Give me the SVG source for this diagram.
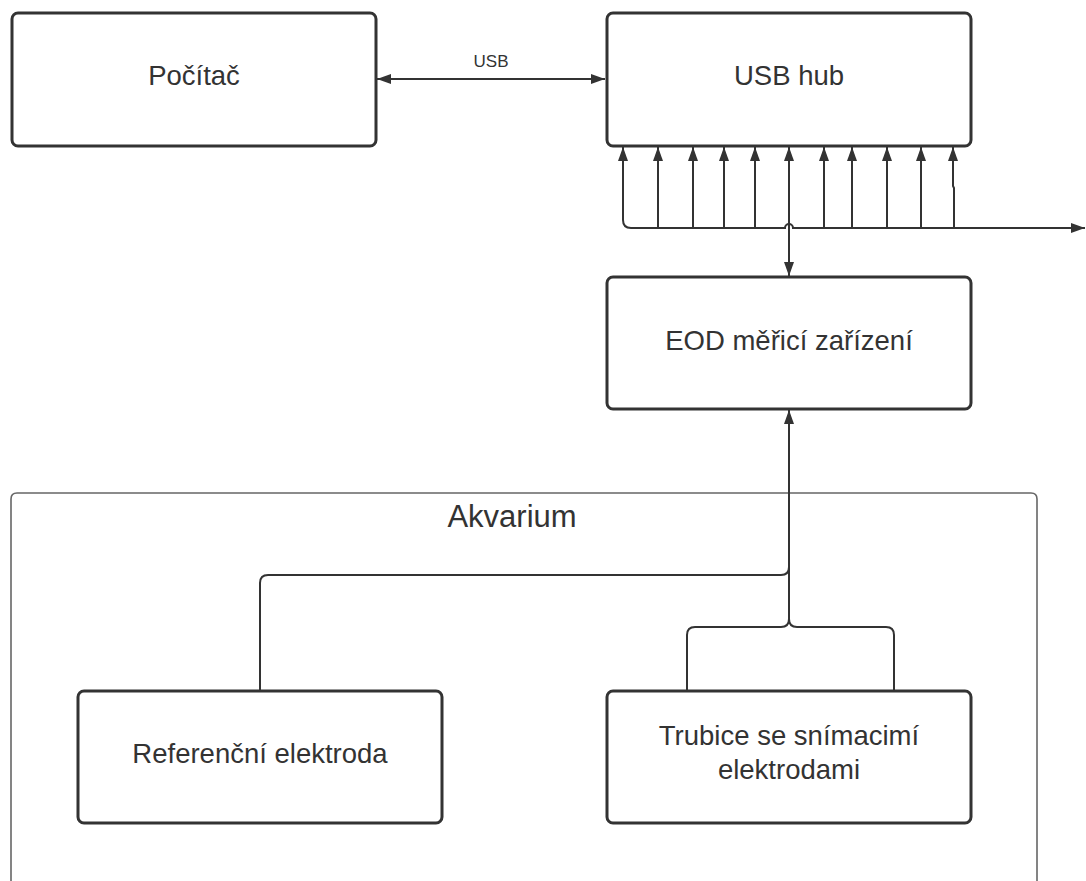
<svg xmlns="http://www.w3.org/2000/svg" width="1086" height="881" viewBox="0 0 1086 881">
<style>
.box{fill:#fff;stroke:#333;stroke-width:3}
.cont{fill:#fff;stroke:#666;stroke-width:1.6}
.t{font-family:"Liberation Sans",Arial,sans-serif;font-size:27.5px;fill:#333;text-anchor:middle}
.c{fill:none;stroke:#333;stroke-width:2}
</style>
<defs>
<marker id="ah" viewBox="0 0 14 10" refX="14" refY="5" markerWidth="14" markerHeight="10" markerUnits="userSpaceOnUse" orient="auto-start-reverse">
<path d="M0,0 L14,5 L0,10 z" fill="#333"/>
</marker>
</defs>
<rect width="1086" height="881" fill="#fff"/>
<g id="akvarium">
<path class="cont" d="M11,890 V499 Q11,493 17,493 H1031 Q1037,493 1037,499 V890"/>
<text class="t" x="512" y="527" style="font-size:31px">Akvarium</text>
</g>
<g id="pocitac">
<rect class="box" x="12" y="13" width="364" height="133" rx="6"/>
<text class="t" x="194" y="85">Počítač</text>
</g>
<g id="usbhub">
<rect class="box" x="607" y="13" width="364" height="133" rx="6"/>
<text class="t" x="789" y="85">USB hub</text>
</g>
<g id="eod">
<rect class="box" x="607" y="277" width="364" height="132" rx="6"/>
<text class="t" x="789" y="350">EOD měřicí zařízení</text>
</g>
<g id="referencni">
<rect class="box" x="78" y="691" width="364" height="132" rx="6"/>
<text class="t" x="260" y="763">Referenční elektroda</text>
</g>
<g id="trubice">
<rect class="box" x="607" y="691" width="364" height="132" rx="6"/>
<text class="t" x="789" y="745">Trubice se snímacimí</text>
<text class="t" x="789" y="779">elektrodami</text>
</g>
<g id="connectors">
<path class="c" d="M377,79 H605" marker-start="url(#ah)" marker-end="url(#ah)"/>
<text class="t" x="491" y="67" style="font-size:17px">USB</text>
<path class="c" d="M623,147 V220 Q623,228 631,228 H785 A4,4 0 0 1 793,228 H1085" marker-start="url(#ah)" marker-end="url(#ah)"/>
<path class="c" d="M658,228 V147" marker-end="url(#ah)"/>
<path class="c" d="M693,228 V147" marker-end="url(#ah)"/>
<path class="c" d="M724,228 V147" marker-end="url(#ah)"/>
<path class="c" d="M755,228 V147" marker-end="url(#ah)"/>
<path class="c" d="M824,228 V147" marker-end="url(#ah)"/>
<path class="c" d="M852,228 V147" marker-end="url(#ah)"/>
<path class="c" d="M887,228 V147" marker-end="url(#ah)"/>
<path class="c" d="M921,228 V147" marker-end="url(#ah)"/>
<path class="c" d="M954,228 V188 L953,186 V147" marker-end="url(#ah)"/>
<path class="c" d="M789,147 V276" marker-start="url(#ah)" marker-end="url(#ah)"/>
<path class="c" d="M260,690 V583 Q260,575 268,575 H781 Q789,575 789,567"/>
<path class="c" d="M687,690 V635 Q687,627 695,627 H781 Q789,627 789,619 V410" marker-end="url(#ah)"/>
<path class="c" d="M894,690 V635 Q894,627 886,627 H797 Q789,627 789,619"/>
</g>
</svg>
